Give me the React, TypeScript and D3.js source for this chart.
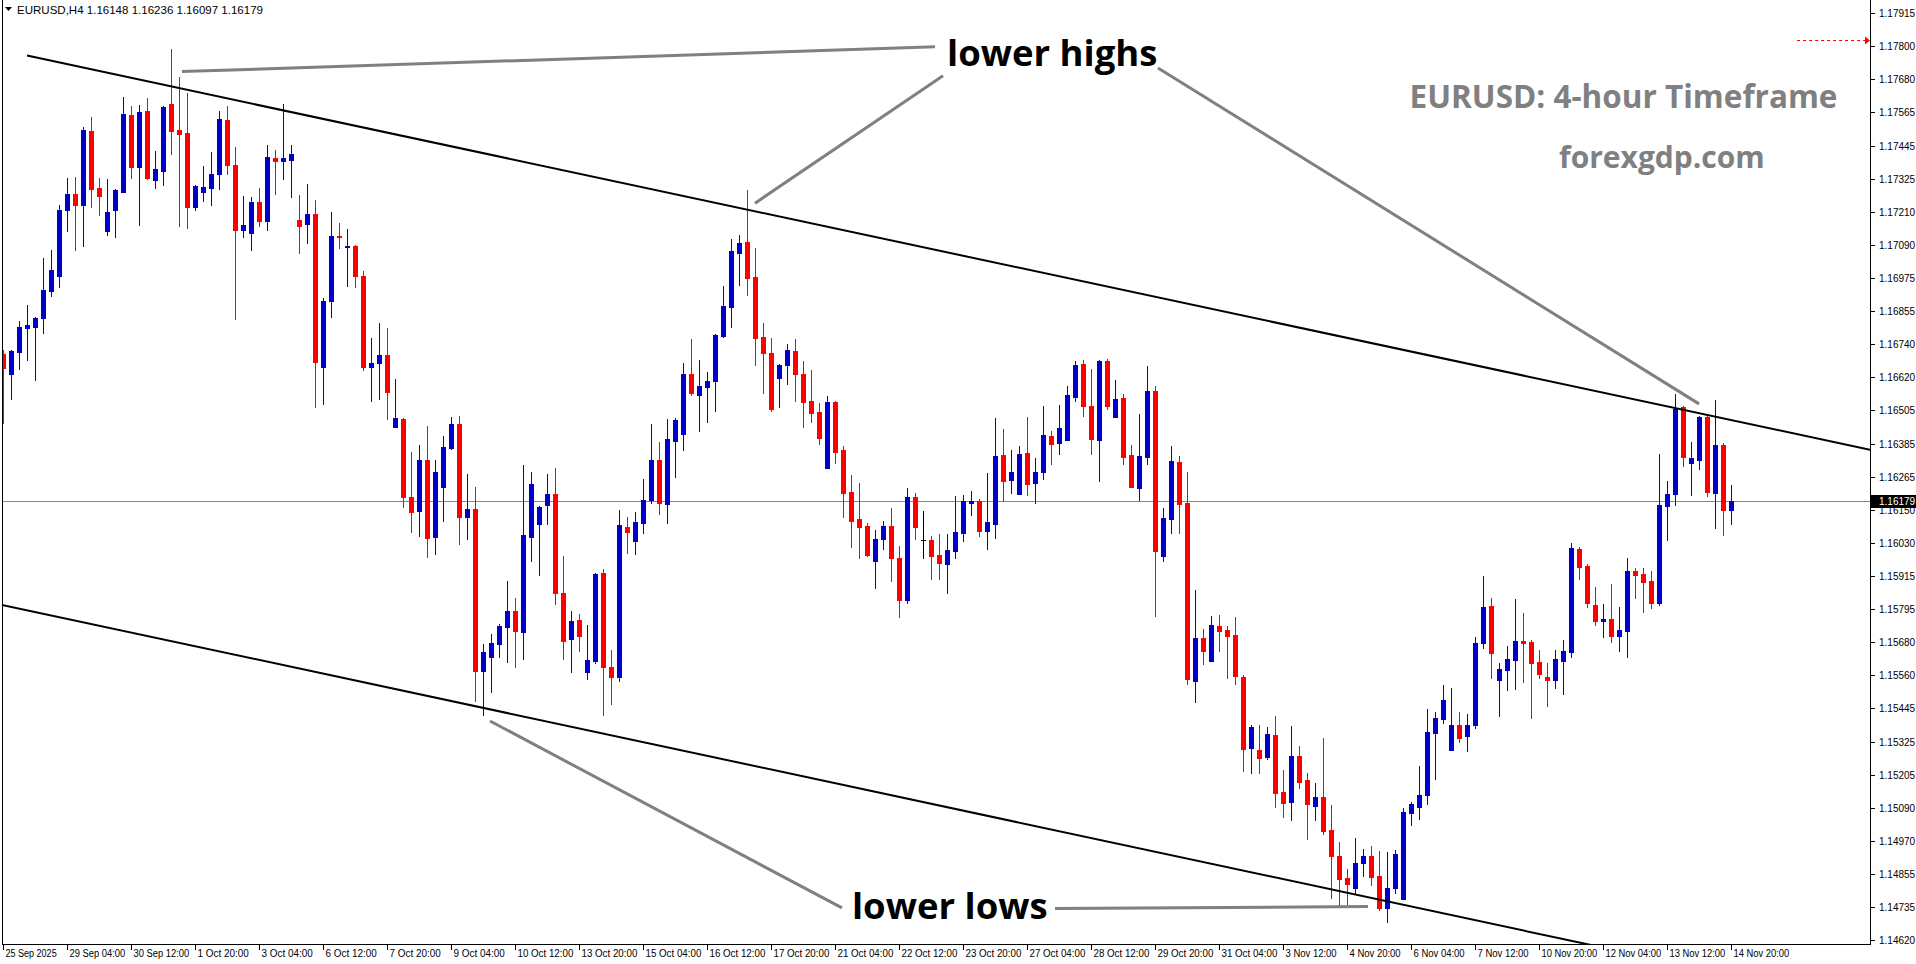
import React, { useEffect } from 'react';
import * as d3 from 'd3';

// ---------------- DATA ----------------
const symbolHeader = 'EURUSD,H4  1.16148 1.16236 1.16097 1.16179';

const open = [
  1.16704, 1.16633, 1.16711, 1.16797, 1.16801, 1.16833, 1.16929, 1.16982, 1.17214, 1.17273,
  1.17235, 1.17497, 1.17294, 1.17142, 1.17214, 1.17280, 1.17554, 1.17370, 1.17568, 1.17324,
  1.17356, 1.17593, 1.17501, 1.17490, 1.17228, 1.17281, 1.17295, 1.17342, 1.17536, 1.17376,
  1.17146, 1.17135, 1.17245, 1.17178, 1.17399, 1.17391, 1.17395, 1.17181, 1.17167, 1.17202,
  1.16658, 1.16892, 1.17124, 1.17084, 1.17088, 1.16981, 1.16658, 1.16672, 1.16700, 1.16445,
  1.16473, 1.16193, 1.16145, 1.16327, 1.16053, 1.16229, 1.16370, 1.16455, 1.16125, 1.16152,
  1.15576, 1.15624, 1.15672, 1.15733, 1.15790, 1.15716, 1.16054, 1.16100, 1.16168, 1.16206,
  1.15855, 1.15688, 1.15758, 1.15571, 1.15612, 1.15925, 1.15591, 1.15555, 1.16088, 1.16040,
  1.16104, 1.16184, 1.16327, 1.16171, 1.16395, 1.16419, 1.16633, 1.16559, 1.16587, 1.16609,
  1.16769, 1.16872, 1.17064, 1.17102, 1.16978, 1.16764, 1.16708, 1.16619, 1.16666, 1.16714,
  1.16633, 1.16538, 1.16497, 1.16299, 1.16533, 1.16362, 1.16213, 1.16117, 1.16092, 1.15968,
  1.16047, 1.16092, 1.15976, 1.15830, 1.16195, 1.16041, 1.16042, 1.15989, 1.15958, 1.16004,
  1.16065, 1.16174, 1.16180, 1.16075, 1.16097, 1.16344, 1.16257, 1.16207, 1.16352, 1.16246,
  1.16282, 1.16412, 1.16388, 1.16399, 1.16552, 1.16668, 1.16519, 1.16399, 1.16679, 1.16481,
  1.16547, 1.16344, 1.16225, 1.16338, 1.16572, 1.15986, 1.16118, 1.16320, 1.16174, 1.15542,
  1.15694, 1.15613, 1.15736, 1.15722, 1.15704, 1.15554, 1.15303, 1.15295, 1.15271, 1.15348,
  1.15145, 1.15111, 1.15274, 1.15188, 1.15097, 1.15128, 1.15010, 1.14918, 1.14839, 1.14805,
  1.14894, 1.14918, 1.14847, 1.14734, 1.14804, 1.14766, 1.15072, 1.15093, 1.15133, 1.15357,
  1.15406, 1.15296, 1.15384, 1.15346, 1.15382, 1.15674, 1.15807, 1.15545, 1.15581, 1.15616,
  1.15683, 1.15680, 1.15608, 1.15554, 1.15545, 1.15613, 1.15645, 1.16010, 1.15950, 1.15811,
  1.15752, 1.15761, 1.15702, 1.15719, 1.15932, 1.15921, 1.15896, 1.15816, 1.16164, 1.16207,
  1.16515, 1.16317, 1.16328, 1.16480, 1.16210, 1.16380, 1.16148,
];

const high = [
  1.16718, 1.16716, 1.16821, 1.16878, 1.16835, 1.17045, 1.17074, 1.17234, 1.17330, 1.17334,
  1.17510, 1.17547, 1.17330, 1.17326, 1.17289, 1.17618, 1.17586, 1.17590, 1.17614, 1.17426,
  1.17586, 1.17789, 1.17689, 1.17632, 1.17303, 1.17373, 1.17422, 1.17568, 1.17586, 1.17440,
  1.17267, 1.17263, 1.17295, 1.17447, 1.17429, 1.17593, 1.17447, 1.17269, 1.17309, 1.17253,
  1.16901, 1.17209, 1.17170, 1.17148, 1.17090, 1.16999, 1.16761, 1.16814, 1.16797, 1.16615,
  1.16475, 1.16355, 1.16380, 1.16448, 1.16327, 1.16412, 1.16480, 1.16483, 1.16277, 1.16231,
  1.15672, 1.15708, 1.15743, 1.15896, 1.15836, 1.16309, 1.16284, 1.16162, 1.16277, 1.16298,
  1.15986, 1.15790, 1.15779, 1.15741, 1.15925, 1.15937, 1.15652, 1.16149, 1.16124, 1.16142,
  1.16259, 1.16455, 1.16391, 1.16473, 1.16476, 1.16672, 1.16757, 1.16682, 1.16640, 1.16773,
  1.16946, 1.17113, 1.17127, 1.17287, 1.17081, 1.16814, 1.16761, 1.16667, 1.16739, 1.16757,
  1.16679, 1.16647, 1.16529, 1.16554, 1.16535, 1.16376, 1.16273, 1.16245, 1.16104, 1.16078,
  1.16110, 1.16156, 1.16022, 1.16227, 1.16208, 1.16146, 1.16056, 1.16063, 1.16063, 1.16200,
  1.16202, 1.16216, 1.16188, 1.16280, 1.16476, 1.16437, 1.16362, 1.16376, 1.16480, 1.16334,
  1.16519, 1.16430, 1.16522, 1.16590, 1.16679, 1.16682, 1.16650, 1.16681, 1.16686, 1.16611,
  1.16561, 1.16380, 1.16490, 1.16661, 1.16590, 1.16156, 1.16376, 1.16341, 1.16284, 1.15864,
  1.15726, 1.15772, 1.15775, 1.15736, 1.15768, 1.15562, 1.15384, 1.15382, 1.15377, 1.15416,
  1.15224, 1.15381, 1.15309, 1.15213, 1.15179, 1.15338, 1.15099, 1.14968, 1.14872, 1.14982,
  1.14943, 1.14954, 1.14936, 1.14932, 1.14939, 1.15089, 1.15110, 1.15238, 1.15441, 1.15430,
  1.15526, 1.15516, 1.15430, 1.15423, 1.15697, 1.15914, 1.15836, 1.15605, 1.15665, 1.15832,
  1.15782, 1.15687, 1.15651, 1.15605, 1.15651, 1.15687, 1.16032, 1.16017, 1.15957, 1.15875,
  1.15815, 1.15886, 1.15804, 1.15978, 1.15943, 1.15943, 1.15932, 1.16348, 1.16252, 1.16561,
  1.16519, 1.16391, 1.16483, 1.16482, 1.16540, 1.16387, 1.16236,
];

const low = [
  1.16457, 1.16544, 1.16650, 1.16682, 1.16611, 1.16778, 1.16908, 1.16943, 1.17142, 1.17074,
  1.17088, 1.17228, 1.17199, 1.17125, 1.17121, 1.17278, 1.17331, 1.17164, 1.17327, 1.17295,
  1.17303, 1.17416, 1.17157, 1.17153, 1.17214, 1.17246, 1.17235, 1.17292, 1.17342, 1.16829,
  1.17121, 1.17075, 1.17160, 1.17146, 1.17274, 1.17327, 1.17263, 1.17064, 1.17100, 1.16516,
  1.16524, 1.16836, 1.17081, 1.16946, 1.16943, 1.16647, 1.16537, 1.16544, 1.16473, 1.16443,
  1.16158, 1.16069, 1.16056, 1.15982, 1.15992, 1.16110, 1.16364, 1.16028, 1.16047, 1.15469,
  1.15421, 1.15500, 1.15624, 1.15608, 1.15591, 1.15617, 1.15967, 1.15919, 1.16097, 1.15814,
  1.15617, 1.15573, 1.15648, 1.15549, 1.15605, 1.15420, 1.15460, 1.15542, 1.15996, 1.15992,
  1.16068, 1.16175, 1.16136, 1.16104, 1.16267, 1.16363, 1.16559, 1.16431, 1.16463, 1.16499,
  1.16765, 1.16801, 1.16950, 1.16915, 1.16666, 1.16563, 1.16502, 1.16516, 1.16595, 1.16538,
  1.16442, 1.16463, 1.16385, 1.16297, 1.16317, 1.16125, 1.16018, 1.15976, 1.15986, 1.15872,
  1.16011, 1.15897, 1.15769, 1.15816, 1.16047, 1.15976, 1.15904, 1.15904, 1.15855, 1.15979,
  1.16040, 1.16129, 1.16057, 1.16009, 1.16050, 1.16180, 1.16210, 1.16205, 1.16202, 1.16174,
  1.16260, 1.16313, 1.16349, 1.16397, 1.16538, 1.16484, 1.16346, 1.16253, 1.16509, 1.16479,
  1.16313, 1.16230, 1.16185, 1.16313, 1.15773, 1.15968, 1.16068, 1.16065, 1.15531, 1.15467,
  1.15602, 1.15611, 1.15648, 1.15551, 1.15531, 1.15221, 1.15214, 1.15214, 1.15264, 1.15093,
  1.15058, 1.15047, 1.15158, 1.14979, 1.15047, 1.14997, 1.14769, 1.14741, 1.14748, 1.14787,
  1.14848, 1.14816, 1.14727, 1.14684, 1.14787, 1.14764, 1.15029, 1.15051, 1.15101, 1.15190,
  1.15392, 1.15294, 1.15324, 1.15293, 1.15374, 1.15656, 1.15552, 1.15414, 1.15510, 1.15513,
  1.15538, 1.15410, 1.15551, 1.15453, 1.15517, 1.15495, 1.15624, 1.15904, 1.15805, 1.15741,
  1.15698, 1.15680, 1.15648, 1.15627, 1.15836, 1.15787, 1.15801, 1.15812, 1.16043, 1.16168,
  1.16306, 1.16203, 1.16296, 1.16200, 1.16086, 1.16061, 1.16097,
];

const close = [
  1.16653, 1.16714, 1.16801, 1.16807, 1.16833, 1.16931, 1.17003, 1.17216, 1.17273, 1.17235,
  1.17501, 1.17292, 1.17267, 1.17209, 1.17287, 1.17558, 1.17370, 1.17565, 1.17331, 1.17362,
  1.17582, 1.17495, 1.17486, 1.17228, 1.17301, 1.17298, 1.17344, 1.17540, 1.17374, 1.17146,
  1.17163, 1.17245, 1.17178, 1.17405, 1.17391, 1.17399, 1.17415, 1.17160, 1.17202, 1.16676,
  1.16892, 1.17124, 1.17118, 1.17088, 1.16981, 1.16658, 1.16672, 1.16700, 1.16569, 1.16476,
  1.16193, 1.16142, 1.16327, 1.16050, 1.16284, 1.16373, 1.16455, 1.16122, 1.16152, 1.15576,
  1.15644, 1.15676, 1.15736, 1.15790, 1.15718, 1.16060, 1.16241, 1.16160, 1.16206, 1.15855,
  1.15684, 1.15754, 1.15702, 1.15615, 1.15921, 1.15589, 1.15555, 1.16096, 1.16071, 1.16106,
  1.16184, 1.16327, 1.16175, 1.16401, 1.16469, 1.16633, 1.16563, 1.16590, 1.16608, 1.16771,
  1.16874, 1.17070, 1.17099, 1.16972, 1.16762, 1.16708, 1.16507, 1.16665, 1.16718, 1.16634,
  1.16534, 1.16495, 1.16406, 1.16533, 1.16356, 1.16210, 1.16111, 1.16089, 1.15989, 1.16046,
  1.16092, 1.15976, 1.15830, 1.16195, 1.16089, 1.16041, 1.15986, 1.15961, 1.16007, 1.16071,
  1.16181, 1.16180, 1.16075, 1.16105, 1.16341, 1.16253, 1.16284, 1.16348, 1.16242, 1.16284,
  1.16416, 1.16385, 1.16440, 1.16558, 1.16665, 1.16520, 1.16402, 1.16679, 1.16520, 1.16544,
  1.16338, 1.16232, 1.16341, 1.16572, 1.16004, 1.16120, 1.16323, 1.16171, 1.15549, 1.15694,
  1.15648, 1.15740, 1.15719, 1.15702, 1.15559, 1.15300, 1.15378, 1.15268, 1.15352, 1.15143,
  1.15108, 1.15274, 1.15182, 1.15101, 1.15128, 1.15008, 1.14919, 1.14837, 1.14819, 1.14893,
  1.14918, 1.14844, 1.14734, 1.14804, 1.14925, 1.15074, 1.15103, 1.15135, 1.15359, 1.15409,
  1.15473, 1.15384, 1.15339, 1.15384, 1.15676, 1.15804, 1.15641, 1.15583, 1.15619, 1.15683,
  1.15677, 1.15605, 1.15566, 1.15545, 1.15619, 1.15647, 1.16014, 1.15947, 1.15819, 1.15752,
  1.15761, 1.15702, 1.15722, 1.15932, 1.15919, 1.15894, 1.15819, 1.16167, 1.16206, 1.16508,
  1.16338, 1.16334, 1.16480, 1.16214, 1.16380, 1.16150, 1.16179,
];

const timeLabelEvery = 8;
const timeLabels = [
  '25 Sep 2025', '29 Sep 04:00', '30 Sep 12:00', '1 Oct 20:00', '3 Oct 04:00', '6 Oct 12:00',
  '7 Oct 20:00', '9 Oct 04:00', '10 Oct 12:00', '13 Oct 20:00', '15 Oct 04:00', '16 Oct 12:00',
  '17 Oct 20:00', '21 Oct 04:00', '22 Oct 12:00', '23 Oct 20:00', '27 Oct 04:00', '28 Oct 12:00',
  '29 Oct 20:00', '31 Oct 04:00', '3 Nov 12:00', '4 Nov 20:00', '6 Nov 04:00', '7 Nov 12:00',
  '10 Nov 20:00', '12 Nov 04:00', '13 Nov 12:00', '14 Nov 20:00',
];

const priceLabels = [
  '1.17915', '1.17800', '1.17680', '1.17565', '1.17445', '1.17325', '1.17210', '1.17090',
  '1.16975', '1.16855', '1.16740', '1.16620', '1.16505', '1.16385', '1.16265', '1.16150',
  '1.16030', '1.15915', '1.15795', '1.15680', '1.15560', '1.15445', '1.15325', '1.15205',
  '1.15090', '1.14970', '1.14855', '1.14735', '1.14620',
];

const bidPrice = 1.16179;
const alertPrice = 1.1782;
const alertFromIndex = 224.2;

// channel lines: [index, price] anchors, extended to the right edge
const upperChannel = [[2.94, 1.17765], [209, 1.16511]];
const lowerChannel = [[-0.2, 1.15811], [196, 1.14616]];

// grey pointer lines: [index, price]
const pointerLines = [
  [[22.31, 1.17708], [116.44, 1.17796]],
  [[117.44, 1.17693], [93.94, 1.17240]],
  [[144.31, 1.17721], [211.94, 1.16526]],
  [[60.81, 1.15398], [104.81, 1.14733]],
  [[131.44, 1.14731], [170.56, 1.14738]],
];

const noteTexts = ['lower highs', 'lower lows'];
const noteAnchors = [[117.94, 1.17728], [106.06, 1.14694]];

const titleText = 'EURUSD: 4-hour Timeframe';
const titleAnchor = [175.76, 1.17579];
const siteText = 'forexgdp.com';
const siteAnchor = [194.44, 1.17365];

// ---------------- STYLE ----------------
const W = 1916;
const H = 964;
const PLOT_LEFT = 2;
const AXIS_X = 1870;
const PLOT_BOTTOM = 944;
const BULL = '#0000CD';
const BEAR = '#FF0000';
const DOJI = '#000000';
const AXIS_FONT = '"Liberation Sans", Arial, sans-serif';
const NOTE_FONT = '"Open Sans", "Noto Sans", sans-serif';

export default function App() {
  useEffect(() => {
    document.body.style.margin = '0';
    document.body.style.overflow = 'hidden';
  }, []);

  const n = open.length;
  const x = d3.scaleLinear().domain([0, n - 1]).range([3.5, 3.5 + 8 * (n - 1)]);
  const y = d3.scaleLinear().domain([1.1462, 1.17915]).range([939.7, 13.4]);

  const extendLine = (pts: number[][]) => {
    const x1 = x(pts[0][0]);
    const y1 = y(pts[0][1]);
    const x2 = x(pts[1][0]);
    const y2 = y(pts[1][1]);
    const slope = (y2 - y1) / (x2 - x1);
    return { x1, y1, x2: AXIS_X, y2: y1 + slope * (AXIS_X - x1) };
  };

  const up = extendLine(upperChannel);
  const lo = extendLine(lowerChannel);
  const bidY = y(bidPrice);
  const alertY = Math.round(y(alertPrice)) + 0.5;

  return (
    <svg
      width={W}
      height={H}
      viewBox={`0 0 ${W} ${H}`}
      style={{ position: 'absolute', left: 0, top: 0, display: 'block', background: '#fff' }}
    >
      <defs>
        <clipPath id="plotClip">
          <rect x={PLOT_LEFT} y={0} width={AXIS_X - PLOT_LEFT} height={PLOT_BOTTOM} />
        </clipPath>
      </defs>
      <rect x={0} y={0} width={W} height={H} fill="#ffffff" />

      {/* bid line */}
      <line x1={PLOT_LEFT} x2={AXIS_X} y1={Math.round(bidY) + 0.5} y2={Math.round(bidY) + 0.5} stroke="#778899" strokeWidth={1} />

      {/* candles */}
      <g clipPath="url(#plotClip)" shapeRendering="crispEdges">
        {open.map((o, i) => {
          const c = close[i];
          const cx = Math.floor(x(i));
          const color = c > o ? BULL : c < o ? BEAR : DOJI;
          const yTop = Math.round(y(Math.max(o, c)));
          const yBot = Math.round(y(Math.min(o, c)));
          const yH = Math.round(y(high[i]));
          const yL = Math.round(y(low[i]));
          return (
            <g key={i}>
              <rect x={cx} y={yH} width={1} height={Math.max(1, yL - yH + 1)} fill={color} />
              <rect x={cx - 2} y={yTop} width={5} height={Math.max(1, yBot - yTop + 1)} fill={color} />
            </g>
          );
        })}
      </g>

      {/* channel lines */}
      <g clipPath="url(#plotClip)">
        <line {...up} stroke="#000" strokeWidth={2} />
        <line {...lo} stroke="#000" strokeWidth={2} />
        {pointerLines.map((pts, k) => (
          <line
            key={k}
            x1={x(pts[0][0])}
            y1={y(pts[0][1])}
            x2={x(pts[1][0])}
            y2={y(pts[1][1])}
            stroke="#808080"
            strokeWidth={3}
          />
        ))}
      </g>

      {/* alert line */}
      <line x1={x(alertFromIndex)} x2={AXIS_X - 4} y1={alertY} y2={alertY} stroke="#FF0000" strokeWidth={1} strokeDasharray="3,3" />
      <polygon points={`${AXIS_X - 5},${alertY - 4} ${AXIS_X},${alertY} ${AXIS_X - 5},${alertY + 4}`} fill="#FF0000" />

      {/* notes */}
      {noteTexts.map((t, k) => (
        <text
          key={t}
          x={x(noteAnchors[k][0])}
          y={y(noteAnchors[k][1])}
          fontFamily={NOTE_FONT}
          fontWeight={700}
          fontSize={36.5}
          fill="#000"
        >
          {t}
        </text>
      ))}
      <text x={x(titleAnchor[0])} y={y(titleAnchor[1])} fontFamily={NOTE_FONT} fontWeight={700} fontSize={31.5} fill="#808080">
        {titleText}
      </text>
      <text x={x(siteAnchor[0])} y={y(siteAnchor[1])} fontFamily={NOTE_FONT} fontWeight={700} fontSize={30} fill="#808080">
        {siteText}
      </text>

      {/* frame */}
      <g shapeRendering="crispEdges">
        <line x1={PLOT_LEFT + 0.5} x2={PLOT_LEFT + 0.5} y1={0} y2={PLOT_BOTTOM} stroke="#000" />
        <line x1={AXIS_X + 0.5} x2={AXIS_X + 0.5} y1={0} y2={PLOT_BOTTOM + 1} stroke="#000" />
        <line x1={PLOT_LEFT} x2={AXIS_X + 1} y1={PLOT_BOTTOM + 0.5} y2={PLOT_BOTTOM + 0.5} stroke="#000" />
      </g>

      {/* price axis */}
      <g fontFamily={AXIS_FONT} fontSize={10} fill="#000" shapeRendering="crispEdges">
        {priceLabels.map((lbl) => {
          const py = Math.round(y(+lbl)) + 0.5;
          return (
            <g key={lbl}>
              <line x1={AXIS_X} x2={AXIS_X + 5} y1={py} y2={py} stroke="#000" />
              <text x={AXIS_X + 9} y={py + 3.5}>{lbl}</text>
            </g>
          );
        })}
      </g>

      {/* bid label */}
      <rect x={AXIS_X + 1} y={Math.round(bidY) - 6} width={W - AXIS_X - 1} height={13} fill="#000" />
      <text x={AXIS_X + 9} y={Math.round(bidY) + 4} fontFamily={AXIS_FONT} fontSize={10} fill="#fff">
        {bidPrice.toFixed(5)}
      </text>

      {/* time axis */}
      <g fontFamily={AXIS_FONT} fontSize={10} fill="#000" shapeRendering="crispEdges">
        {timeLabels.map((lbl, k) => {
          const tx = Math.floor(x(k * timeLabelEvery)) + 0.5;
          return (
            <g key={lbl}>
              <line x1={tx} x2={tx} y1={PLOT_BOTTOM} y2={PLOT_BOTTOM + 6} stroke="#000" />
              <text x={tx + 2} y={957} textLength={lbl.length * 4.65} lengthAdjust="spacingAndGlyphs">
                {lbl}
              </text>
            </g>
          );
        })}
      </g>

      {/* header */}
      <polygon points="5,7 12,7 8.5,11" fill="#000" />
      <text x={17} y={13.5} fontFamily={AXIS_FONT} fontSize={11} fill="#000" textLength={246} lengthAdjust="spacingAndGlyphs">
        {symbolHeader}
      </text>
    </svg>
  );
}
